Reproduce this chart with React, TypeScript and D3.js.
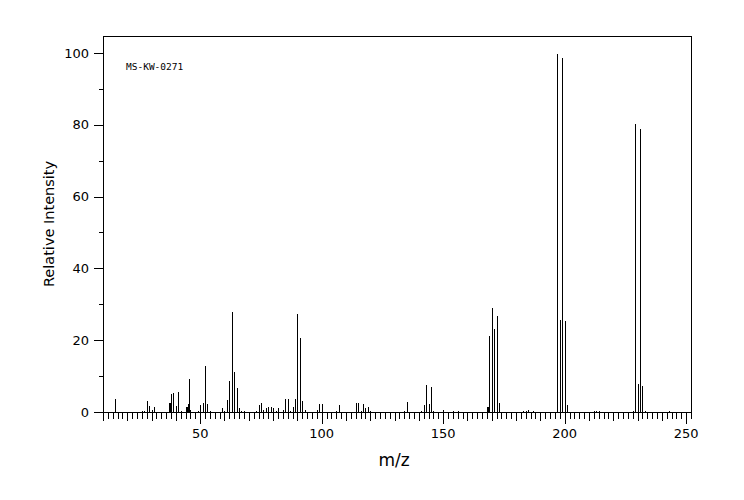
import React from "react";
import * as d3 from "d3";

// m/z positions of the peaks
const mzValues = [
  14, 15, 16, 26, 27, 28, 29, 30, 31, 32, 33, 36, 37, 37.5, 38, 39, 40, 41, 42, 43,
  44, 44.5, 45, 45.5, 46, 49, 50, 51, 52, 53, 54, 55, 58, 59, 60, 61, 62, 63, 64, 65,
  66, 67, 68, 69, 73, 74, 75, 76, 77, 78, 79, 80, 81, 82, 84, 85, 86, 87, 88, 89,
  90, 91, 92, 93, 94, 95, 98, 99, 100, 101, 102, 103, 104, 105, 106, 107, 108, 114, 115, 116,
  117, 118, 119, 120, 121, 122, 130, 131, 132, 133, 134, 135, 136, 141, 142, 143, 144, 145, 146, 147,
  148, 149, 150, 151, 154, 155, 156, 157, 158, 159, 160, 167, 168, 168.5, 169, 170, 171, 172, 173, 174,
  175, 181, 182, 183, 184, 185, 186, 187, 188, 195, 196, 197, 198, 199, 200, 201, 202, 210, 211, 212,
  213, 214, 215, 216, 224, 228, 229, 230, 231, 232, 233, 243, 245,
];

// relative intensities (%) matching mzValues
const intensities = [
  0.3, 3.9, 0.3, 0.6, 0.6, 3.3, 1.9, 0.8, 1.6, 0.3, 0.3, 0.3, 2.8, 2.8, 5.2, 5.6, 1.9, 5.8, 0.6, 0.3,
  1.7, 1.7, 2.5, 9.5, 0.9, 0.6, 2.2, 2.8, 13.1, 2.5, 0.6, 0.3, 0.3, 1.4, 0.6, 3.6, 8.9, 28.1, 11.4, 7.0,
  1.4, 0.6, 0.6, 0.3, 0.6, 2.2, 2.8, 0.8, 1.4, 1.7, 1.7, 1.4, 0.6, 1.4, 0.8, 3.9, 3.9, 0.6, 1.7, 3.9,
  27.6, 20.9, 3.3, 0.8, 0.3, 0.3, 0.8, 2.5, 2.5, 0.3, 0.3, 0.3, 0.3, 0.3, 0.6, 2.2, 0.3, 2.8, 2.8, 0.6,
  2.5, 1.4, 1.7, 0.6, 0.3, 0.3, 0.3, 0.3, 0.3, 0.3, 0.6, 3.1, 0.3, 0.6, 2.2, 7.8, 2.5, 7.2, 0.6, 0.3,
  0.3, 0.3, 0.8, 0.3, 0.6, 0.3, 0.6, 0.3, 0.3, 0.3, 0.3, 0.3, 1.7, 1.7, 21.4, 29.2, 23.4, 27.0, 2.8, 0.3,
  0.3, 0.3, 0.3, 0.6, 0.6, 0.8, 0.3, 0.6, 0.3, 0.3, 0.3, 100, 25.9, 98.8, 25.6, 2.2, 0.3, 0.3, 0.3, 0.6,
  0.6, 0.6, 0.3, 0.3, 0.3, 0.6, 80.4, 8.1, 79.1, 7.5, 0.6, 0.6, 0.3,
];

const xLabelTicks = [50, 100, 150, 200, 250];
const yLabelTicks = [0, 20, 40, 60, 80, 100];
const spectrumId = "MS-KW-0271";
const xTitle = "m/z";
const yTitle = "Relative Intensity";

const W = 744;
const H = 500;
const left = 103;
const right = 691;
const top = 36;
const bottom = 412;
const font = "'DejaVu Sans', sans-serif";

export default function App() {
  const x = d3.scaleLinear().domain([10, 252]).range([left, right]);
  const y = d3.scaleLinear().domain([0, 104.7]).range([bottom, top]);

  const minorX = d3.range(10, 253, 2);
  const minorY = d3.range(0, 101, 10);
  const px = (v: number) => Math.round(x(v)) + 0.5;
  const py = (v: number) => Math.round(y(v)) + 0.5;

  const peaks = mzValues.map((m, i) => ({ m, v: intensities[i] }));

  return (
    <svg
      width={W}
      height={H}
      style={{ position: "absolute", left: 0, top: 0, background: "#fff" }}
      shapeRendering="crispEdges"
    >
      <rect x={0} y={0} width={W} height={H} fill="#fff" />
      {/* frame */}
      <rect
        x={left + 0.5}
        y={top + 0.5}
        width={right - left}
        height={bottom - top}
        fill="none"
        stroke="#000"
        strokeWidth={1}
      />
      {/* peaks */}
      {peaks.map((p, i) => (
        <line
          key={i}
          x1={px(p.m)}
          x2={px(p.m)}
          y1={bottom + 0.5}
          y2={py(p.v)}
          stroke="#000"
          strokeWidth={1}
        />
      ))}
      {/* x ticks */}
      {minorX.map((t) => {
        const len = t % 50 === 0 ? 11 : t % 10 === 0 ? 8 : 6;
        return (
          <line
            key={"xt" + t}
            x1={px(t)}
            x2={px(t)}
            y1={bottom + 0.5}
            y2={bottom + 0.5 + len}
            stroke="#000"
          />
        );
      })}
      {xLabelTicks.map((t) => (
        <text
          key={"xl" + t}
          x={x(t)}
          y={438}
          textAnchor="middle"
          fontFamily={font}
          fontSize={13}
          fill="#000"
        >
          {t}
        </text>
      ))}
      {/* y ticks */}
      {minorY.map((t) => {
        const len = t % 20 === 0 ? 10 : 5;
        return (
          <line
            key={"yt" + t}
            x1={left + 0.5 - len}
            x2={left + 0.5}
            y1={py(t)}
            y2={py(t)}
            stroke="#000"
          />
        );
      })}
      {yLabelTicks.map((t) => (
        <text
          key={"yl" + t}
          x={89}
          y={y(t)}
          dy="0.36em"
          textAnchor="end"
          fontFamily={font}
          fontSize={13}
          fill="#000"
        >
          {t}
        </text>
      ))}
      <text
        x={126}
        y={70}
        fontFamily="'DejaVu Sans Mono', monospace"
        fontSize={9.5}
        fill="#000"
      >
        {spectrumId}
      </text>
      <text
        x={394}
        y={466}
        textAnchor="middle"
        fontFamily={font}
        fontSize={17}
        fill="#000"
      >
        {xTitle}
      </text>
      <text
        transform={`translate(54, ${(top + bottom) / 2}) rotate(-90)`}
        textAnchor="middle"
        fontFamily={font}
        fontSize={14.5}
        fill="#000"
      >
        {yTitle}
      </text>
    </svg>
  );
}
